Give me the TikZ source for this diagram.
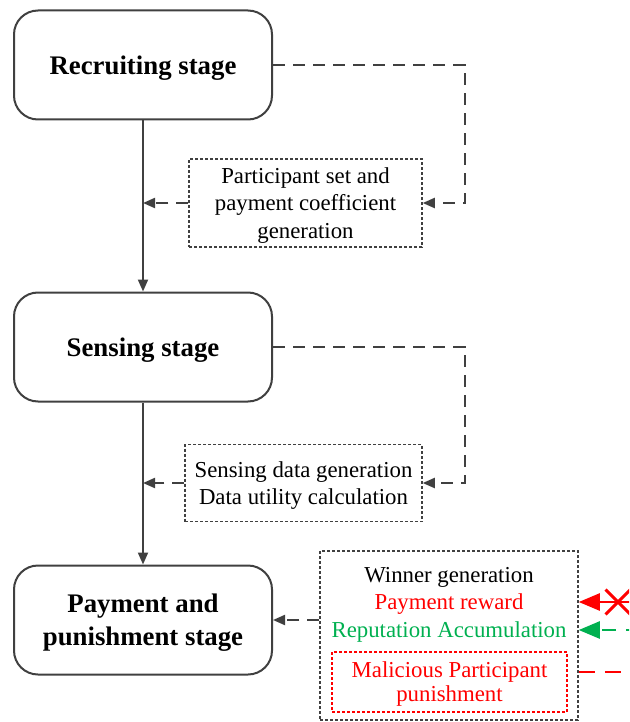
\documentclass[tikz,border=0pt]{standalone}
\usepackage{fontspec}
\setmainfont{Liberation Serif}
\usetikzlibrary{positioning,arrows.meta,shapes.misc}
\definecolor{linegray}{HTML}{404040}
\definecolor{accgreen}{HTML}{00B050}

\begin{document}
\begin{tikzpicture} [x=0.5pt, y=-0.5pt, line width=1pt,
    stage/.style={draw=linegray, rounded corners=12pt, minimum
      width=129pt, minimum height=54.5pt, inner sep=0, align=center,
      text depth=0pt, font=\fontsize{13.4}{16.5}\selectfont\bfseries},
    output/.style={draw=linegray, dash pattern=on 1.5pt off 1pt, line
      width=0.75pt, inner sep=0, align=center, text depth=0pt,
      font=\fontsize{11.4}{13.75}\selectfont},
    item/.style={inner sep=0, anchor=mid,
      font=\fontsize{11.4}{13.75}\selectfont},
    flow/.style={draw=linegray, -{Triangle[length=6pt,width=5pt]}},
    side/.style={flow, dash pattern=on 6pt off 4pt},
    feed/.style={-{Triangle[length=10.5pt,width=8.5pt]}, line width=1.2pt}]
  \useasboundingbox (0,0) rectangle (629,722);
  \clip (0,0) rectangle (629,722);

  \node[stage] (recruit) at (143,65) {Recruiting stage};
  \node[stage, below=85.5pt of recruit] (sense) {Sensing stage};
  \node[stage, below=81pt of sense] (pay) {Payment and\\punishment stage};

  \node[output, minimum width=116.5pt, minimum height=44pt] (setgen)
    at (305.5,203) {Participant set and\\payment coefficient\\generation};
  \node[output, minimum width=118.5pt, minimum height=38.5pt] (datagen)
    at (303.5,483) {Sensing data generation\\Data utility calculation};
  \node[output, minimum width=129pt, minimum height=84.5pt] (winner)
    at (449,635.5) {};
  \node[item] (wingen) at (449,578) {Winner generation};
  \node[item, text=red] (reward) at (449,605) {Payment reward};
  \node[item, text=accgreen] (reput) at (449,633) {Reputation Accumulation};
  \node[output, draw=red, text=red, minimum width=117.5pt, minimum
    height=30pt, font=\fontsize{11.4}{12}\selectfont] (punish)
    at (449.5,682) {Malicious Participant\\punishment};

  \draw[flow] (recruit) -- (sense);
  \draw[flow] (sense) -- (pay);
  \draw[side] (recruit.east) -| ([xshift=21pt]setgen.east) -- (setgen.east);
  \draw[side] (setgen.west) -- (setgen.west -| recruit.south);
  \draw[side] (sense.east) -| ([xshift=21pt]datagen.east) -- (datagen.east);
  \draw[side] (datagen.west) -- (datagen.west -| sense.south);
  \draw[side] (winner.west |- pay.east) -- (pay.east);

  \coordinate (redsrc) at (640,602);
  \coordinate (greensrc) at (640,630);
  \coordinate (punsink) at (640,672);
  \node[cross out, draw=red, line width=1.5pt, minimum size=11pt] (cut)
    at (618,602) {};
  \draw[feed, red] (redsrc) -- (winner.east |- redsrc);
  \draw[feed, accgreen, dash pattern=on 7pt off 5pt] (greensrc)
    -- (winner.east |- greensrc);
  \draw[red, line width=1.2pt, dash pattern=on 8pt off 5pt]
    (winner.east |- punsink) -- (punsink);
\end{tikzpicture}
\end{document}
